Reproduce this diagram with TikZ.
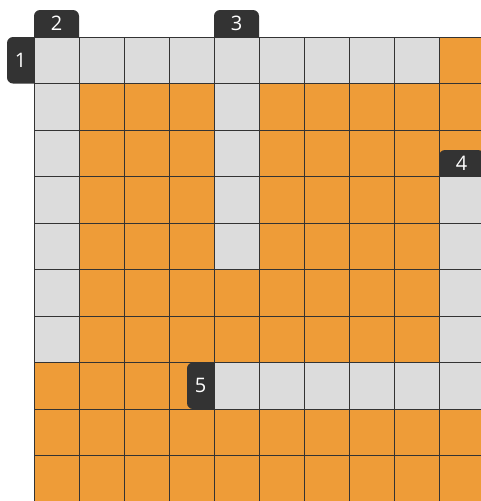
\documentclass[tikz,border=0pt]{standalone}
\usepackage{fontspec}
\setmainfont{Open Sans}
\definecolor{cellgray}{HTML}{DCDCDC}
\definecolor{cellorange}{HTML}{EE9C38}
\definecolor{tagfill}{HTML}{333333}
\begin{document}
\begin{tikzpicture}[x=1pt,y=-1pt,
  gridline/.style={draw=black!80,line width=0.9pt},
  tagbox/.style={fill=tagfill},
  tagtext/.style={text=white,font=\fontsize{20}{20}\selectfont,inner sep=0pt}]
\useasboundingbox (0,0) rectangle (481,501);
\clip (0,0) rectangle (481,501);
% cells
\fill[cellorange] (34,37) rectangle (484,502);
\fill[cellgray] (34,37) rectangle (439,83.5);
\fill[cellgray] (34,83.5) rectangle (79,362.5);
\fill[cellgray] (214,83.5) rectangle (259,269.5);
\fill[cellgray] (439,176.5) rectangle (484,409);
\fill[cellgray] (214,362.5) rectangle (439,409);
% grid
\foreach \i in {0,...,10} {
  \draw[gridline] ({34+45*\i},37) -- ({34+45*\i},502);
  \draw[gridline] (34,{37+46.5*\i}) -- (484,{37+46.5*\i});
}
% tags
\fill[tagbox] (34,83.5) -- (34,37) [rounded corners=6pt] -- (7,37) -- (7,83.5) [sharp corners] -- cycle;
\path[tagbox] (34,37) [rounded corners=6pt] -- (34,10) -- (79,10) [sharp corners] -- (79,37) -- cycle;
\path[tagbox] (214,37) [rounded corners=6pt] -- (214,10) -- (259,10) [sharp corners] -- (259,37) -- cycle;
\path[tagbox] (439,176.5) [rounded corners=6pt] -- (439,150) -- (484,150) [sharp corners] -- (484,176.5) -- cycle;
\fill[tagbox] (214,409) -- (214,362.5) [rounded corners=6pt] -- (187,362.5) -- (187,409) [sharp corners] -- cycle;
\node[tagtext] (t1) at (20.5,60.25) {1};
\node[tagtext] (t2) at (56.5,23.5) {2};
\node[tagtext] (t3) at (236.5,23.5) {3};
\node[tagtext] (t4) at (461.5,163.5) {4};
\node[tagtext] (t5) at (200.5,385.75) {5};
\end{tikzpicture}
\end{document}
